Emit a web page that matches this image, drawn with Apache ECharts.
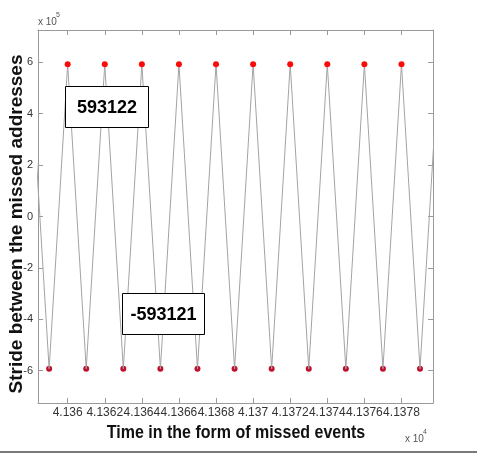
<!DOCTYPE html>
<html>
<head>
<meta charset="utf-8">
<script src="https://cdn.jsdelivr.net/npm/echarts@6/dist/echarts.min.js"></script>
<style>
  html, body { margin: 0; padding: 0; background: #ffffff; }
  #chart { width: 477px; height: 453px; }
</style>
</head>
<body>
<div id="chart"></div>
<script>
// Index of each missed event along the trace
const eventIndex = [41358, 41359, 41360, 41361, 41362, 41363, 41364, 41365, 41366, 41367, 41368, 41369,
                    41370, 41371, 41372, 41373, 41374, 41375, 41376, 41377, 41378, 41379, 41380];
// Stride between consecutive missed addresses
const stride = [593122, -593121, 593122, -593121, 593122, -593121, 593122, -593121, 593122, -593121,
                593122, -593121, 593122, -593121, 593122, -593121, 593122, -593121, 593122, -593121,
                593122, -593121, 593122];
// Tick positions on both axes
const xTicks = [41360, 41362, 41364, 41366, 41368, 41370, 41372, 41374, 41376, 41378];
const yTicks = [-600000, -400000, -200000, 0, 200000, 400000, 600000];

const FONT = '"Liberation Sans", Arial, Helvetica, sans-serif';
const X_MIN = 41358.4, X_MAX = 41379.7;
const Y_MIN = -726000, Y_MAX = 726000;
const AXIS_COLOR = '#9a9a9a';
const TICK_TEXT = '#333333';

const fmtX = v => String(+(v / 1e4).toFixed(4));
const fmtY = v => String(Math.round(v / 1e5));

const points = eventIndex.map((x, i) => [x, stride[i]]);
const inView = p => p[0] >= X_MIN && p[0] <= X_MAX;
const peaks = points.filter(p => p[1] > 0 && inView(p));
const troughs = points.filter(p => p[1] < 0 && inView(p));

const maxStride = Math.max(...stride);
const minStride = Math.min(...stride);

function boxAxis(pos, isX, withLabels) {
  const ticks = isX ? xTicks : yTicks;
  return {
    type: 'value',
    position: pos,
    min: isX ? X_MIN : Y_MIN,
    max: isX ? X_MAX : Y_MAX,
    axisLine: { show: true, onZero: false, lineStyle: { color: AXIS_COLOR, width: 1 } },
    axisTick: { show: true, inside: true, length: 5, customValues: ticks,
                lineStyle: { color: AXIS_COLOR, width: 1 } },
    axisLabel: withLabels ? {
      show: true, customValues: ticks, formatter: isX ? fmtX : fmtY,
      color: TICK_TEXT, fontSize: isX ? 12 : 11, fontFamily: FONT, margin: isX ? 4 : 5
    } : { show: false },
    splitLine: { show: false }
  };
}

function calloutBox(x, y, w, h, label) {
  return {
    type: 'group', x: x, y: y, z: 100,
    children: [
      { type: 'rect', shape: { x: 0.5, y: 0.5, width: w, height: h },
        style: { fill: '#ffffff', stroke: '#000000', lineWidth: 1 }, z: 100 },
      { type: 'text', x: w / 2 + 0.5, y: h / 2 + 1.5, z: 101,
        style: { text: label, font: 'bold 18px ' + FONT, fill: '#000000',
                 align: 'center', verticalAlign: 'middle' } }
    ]
  };
}

const chart = echarts.init(document.getElementById('chart'), null, { renderer: 'canvas' });

chart.setOption({
  animation: false,
  backgroundColor: '#ffffff',
  grid: { left: 38, right: 44, top: 30, bottom: 50, containLabel: false },
  xAxis: [boxAxis('bottom', true, true), boxAxis('top', true, false)],
  yAxis: [boxAxis('left', false, true), boxAxis('right', false, false)],
  series: [
    {
      type: 'scatter', xAxisIndex: 0, yAxisIndex: 0, z: 1,
      data: troughs, symbol: 'circle', symbolSize: 6,
      itemStyle: { color: '#c0102e', opacity: 1 }
    },
    {
      type: 'line', xAxisIndex: 0, yAxisIndex: 0, z: 2,
      data: points, symbol: 'none', clip: true,
      lineStyle: { color: '#a3a3a3', width: 1 }
    },
    {
      type: 'scatter', xAxisIndex: 0, yAxisIndex: 0, z: 3,
      data: peaks, symbol: 'circle', symbolSize: 6,
      itemStyle: { color: '#ff0a0a', opacity: 1 }
    }
  ],
  graphic: [
    calloutBox(65, 86, 83, 41, String(maxStride)),
    calloutBox(122, 293, 82, 41, String(minStride)),
    { type: 'text', x: 236, y: 433, z: 100, scaleY: 1.1,
      style: { text: 'Time in the form of missed events', font: 'bold 16px ' + FONT,
               fill: '#111111', align: 'center', verticalAlign: 'middle' } },
    { type: 'text', x: 17, y: 224, z: 100, rotation: Math.PI / 2,
      style: { text: 'Stride between the missed addresses', font: 'bold 19px ' + FONT,
               fill: '#111111', align: 'center', verticalAlign: 'middle' } },
    // exponent markers for both axes
    { type: 'text', x: 38, y: 22, z: 100,
      style: { text: 'x 10', font: '10px ' + FONT, fill: '#555555', verticalAlign: 'middle' } },
    { type: 'text', x: 56, y: 15, z: 100,
      style: { text: '5', font: '7px ' + FONT, fill: '#555555', verticalAlign: 'middle' } },
    { type: 'text', x: 405, y: 439, z: 100,
      style: { text: 'x 10', font: '10px ' + FONT, fill: '#555555', verticalAlign: 'middle' } },
    { type: 'text', x: 423, y: 432, z: 100,
      style: { text: '4', font: '7px ' + FONT, fill: '#555555', verticalAlign: 'middle' } },
    // frame edge along the bottom
    { type: 'line', z: 100, shape: { x1: 0, y1: 452, x2: 477, y2: 452 },
      style: { stroke: '#7a7a7a', lineWidth: 2 } }
  ]
});
</script>
</body>
</html>
